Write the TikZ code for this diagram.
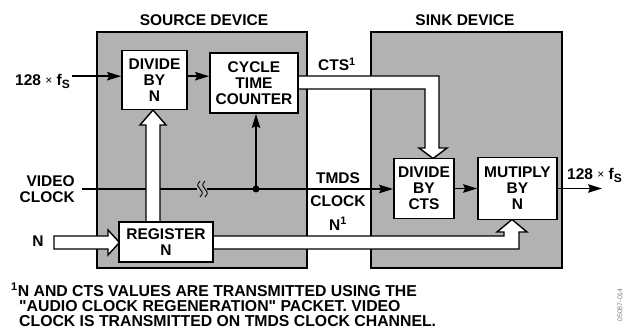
\documentclass[tikz,border=0pt]{standalone}
\usepackage{fontspec}
\newfontfamily\arialf{Liberation Sans}
\usetikzlibrary{arrows.meta,calc}
\definecolor{panelgray}{RGB}{178,178,178}
\pgfdeclarelayer{back}
\pgfdeclarelayer{mid}
\pgfsetlayers{back,mid,main}
\newcommand{\fsym}{128\;{\fontsize{12}{12}\selectfont\mdseries\raisebox{0.5pt}{×}}\;f\raisebox{-3.5pt}{\fontsize{12}{12}\selectfont S}}
\begin{document}
\begin{tikzpicture}[x=1pt,y=-1pt,
  font=\arialf\fontsize{15.5}{16}\selectfont\bfseries,
  panel/.style={draw, fill=panelgray, line width=1.8pt, inner sep=0},
  blk/.style={draw, fill=white, line width=1.8pt, align=center, inner sep=0},
  wire/.style={line width=1.4pt},
  arr/.style={wire, -{Stealth[length=14pt,width=8.5pt,inset=2pt]}},
  pipe/.style={draw, fill=white, line width=1.4pt, line join=miter},
  lbl/.style={inner sep=0, align=center},
  fnote/.style={lbl, anchor=base west, font=\arialf\fontsize{15.8}{16}\selectfont\bfseries},
]
\useasboundingbox (0,0) rectangle (625,329);

% panels
\begin{pgfonlayer}{back}
\node[panel, minimum width=210pt, minimum height=236pt] (src) at (202,150) {};
\node[panel, minimum width=191pt, minimum height=236pt] (sink) at (466.5,150) {};
\end{pgfonlayer}
\node[lbl, anchor=base] (srct) at (204,26) {SOURCE DEVICE};
\node[lbl, anchor=base] (sinkt) at (465,26) {SINK DEVICE};

% blocks
\node[blk, minimum width=65pt, minimum height=59pt] (divn) at (154.5,80) {DIVIDE\\BY\\N};
\node[blk, minimum width=88pt, minimum height=60pt] (cyc) at (254,83) {CYCLE\\TIME\\COUNTER};
\node[blk, minimum width=94pt, minimum height=40pt] (reg) at (166,242) {REGISTER\\N};
\node[blk, minimum width=60pt, minimum height=60pt] (divc) at (424,188.5) {DIVIDE\\BY\\CTS};
\node[blk, minimum width=79pt, minimum height=62pt] (mul) at (517.5,188.5) {MUTIPLY\\BY\\N};

% labels
\node[lbl, anchor=base east] (fin) at (70,85.5) {\fsym};
\node[lbl, anchor=base west] (fout) at (567,179) {\fsym};
\node[lbl, anchor=east, align=right] (vid) at (75,189.5) {VIDEO\\CLOCK};
\node[lbl, anchor=base] (nin) at (38,247) {N};
\node[lbl, anchor=base] (ctsl) at (337,71) {CTS\textsuperscript{1}};
\node[lbl, anchor=base] (tmds) at (338,184) {TMDS};
\node[lbl, anchor=base] (clk) at (338,207) {CLOCK};
\node[lbl, anchor=base] (nl) at (338,230) {N\textsuperscript{1}};

% footnote
\node[fnote] (fn1) at (11,296) {\textsuperscript{1}N AND CTS VALUES ARE TRANSMITTED USING THE};
\node[fnote] (fn2) at (19,311) {"AUDIO CLOCK REGENERATION" PACKET. VIDEO};
\node[fnote] (fn3) at (19,326) {CLOCK IS TRANSMITTED ON TMDS CLOCK CHANNEL.};
\node[lbl, rotate=90, font=\arialf\fontsize{7}{7}\selectfont, text=gray] (fid) at (620,305) {05087-014};

% connectors
\coordinate (v0) at (82,189);
\coordinate (sq1) at (197,189);
\coordinate (sq2) at (207,189);
\coordinate (dot) at (256,189);
\coordinate (out) at (602,188.5);
\begin{pgfonlayer}{mid}
\draw[arr] (fin.east) ++(2,-5.5) coordinate (f0) -- (f0 -| divn.west);
\draw[arr] (divn.east |- f0) -- (f0 -| cyc.west);
\draw[wire] (v0) -- (sq1);
\draw[wire] (sq2) -- (dot);
\draw[arr] (dot) -- (dot -| divc.west);
\draw[arr] (dot) -- (dot |- cyc.south);
\fill (dot) circle (3.5pt);
\draw[line width=0.9pt] (200,181) .. controls (196,185) and (198,187) .. (200,189) .. controls (202,191) and (204,193) .. (200,197);
\draw[line width=0.9pt] (205,181) .. controls (201,185) and (203,187) .. (205,189) .. controls (207,191) and (209,193) .. (205,197);
\draw[arr] (divc.east |- mul.west) -- (mul.west);
\draw[arr] (mul.east) -- (out);
% hollow pipes
\draw[pipe] (297,76) -- (439,76) -- (439,148) -- (447,148) -- (433,158.5) -- (419,148) -- (425,148) -- (425,89) -- (297,89) -- cycle;
\draw[pipe] (146,223) -- (146,125) -- (140,125) -- (153,110) -- (166,125) -- (160,125) -- (160,223) -- cycle;
\draw[pipe] (54,236) -- (108,236) -- (108,230) -- (119.5,242.5) -- (108,255) -- (108,249) -- (54,249) -- cycle;
\draw[pipe] (212,236) -- (504,236) -- (504,232) -- (497,232) -- (512,219.5) -- (527,232) -- (519,232) -- (519,249) -- (212,249) -- cycle;
\end{pgfonlayer}
\end{tikzpicture}
\end{document}
